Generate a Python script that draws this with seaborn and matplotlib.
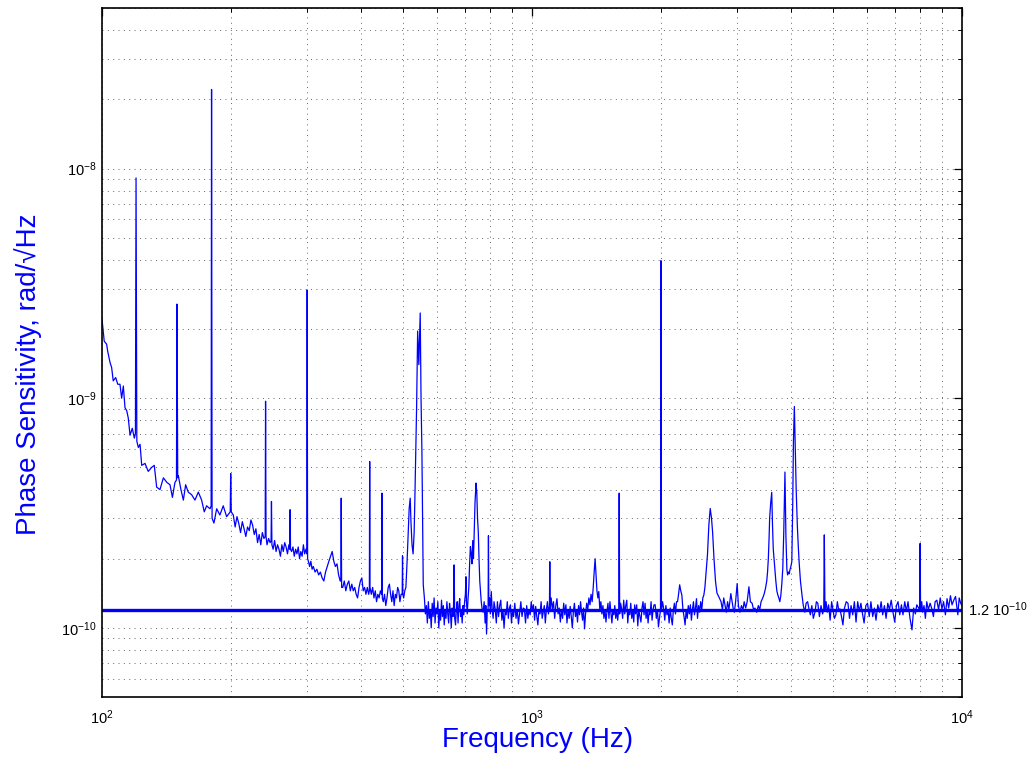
import numpy as np
import pandas as pd
import seaborn as sns
import matplotlib
matplotlib.use("Agg")
import matplotlib.pyplot as plt
from matplotlib.ticker import LogLocator, LogFormatterMathtext, NullFormatter

# spectrum, in three bands
# frequency in Hz, amplitude in units of 1e-10 rad/sqrt(Hz)
low_hz = [
    100.0, 101.2, 102.5, 103.1, 104.4, 105.3, 106.2, 107.6, 108.8, 110.1,
    111.1, 112.1, 113.1, 114.2, 115.1, 116.2, 117.6, 118.9, 119.6, 120.0,
    120.5, 121.5, 122.6, 123.7, 125.9, 128.1, 130.5, 132.3, 134.0, 136.4,
    138.9, 141.5, 143.9, 145.8, 147.8, 149.0, 149.4, 150.0, 150.5, 152.6,
    154.6, 156.5, 158.7, 161.6, 164.5, 167.5, 170.5, 172.9, 175.1, 178.3,
    179.4, 179.8, 180.3, 182.1, 184.8, 188.0, 191.4, 194.9, 198.7, 199.2,
    199.8,
]
low_amp = [
    22.1, 17.7, 17.2, 16.0, 14.3, 13.6, 11.9, 12.3, 11.5, 11.5,
    10.0, 11.3, 9.1, 8.8, 8.2, 6.9, 7.4, 6.7, 7.0, 91.0,
    6.5, 6.1, 6.3, 5.1, 5.2, 4.8, 5.0, 5.1, 4.1, 4.0,
    4.5, 4.3, 4.2, 3.7, 4.3, 4.4, 25.7, 4.5, 4.6, 4.0,
    3.6, 4.2, 3.9, 3.8, 3.6, 3.9, 3.6, 3.2, 3.4, 3.3,
    3.4, 221.0, 3.0, 2.86, 3.3, 3.1, 3.4, 3.05, 3.2, 4.7,
    3.2,
]

mid_hz = [
    202, 204, 206, 208, 210, 212, 214, 216, 218, 220,
    222, 224, 226, 228, 230, 232, 234, 236, 238, 239.6,
    240.1, 240.7, 242, 244, 246, 247.3, 247.8, 248.4, 250, 252,
    254, 256, 258, 260, 262, 264, 266, 268, 270, 272,
    273.3, 273.8, 274.4, 276, 278, 280, 282, 284, 286, 288,
    290, 292, 294, 296, 298, 299.4, 300.0, 300.7, 302, 304,
    306, 308, 310, 313, 316, 319, 322, 325, 328, 331,
    334, 337, 340, 343, 346, 349, 352, 355, 358, 359.3,
    360.0, 360.8, 363, 366, 369, 372, 375, 378, 381, 384,
    387, 390, 393, 396, 399, 402, 405, 408, 411, 414,
    417, 418.6, 419.3, 420.0, 423, 426, 429, 432, 435, 438,
    441, 444, 447.0, 447.8, 448.6, 451, 454, 457, 460, 463,
    466, 469, 472, 475, 478, 481, 484, 487, 490, 493,
    496, 499.0, 499.9, 500.8, 503, 506, 509, 512, 515, 518,
    520.9, 523, 526, 529, 532, 534, 536.6, 539, 542.1, 545.5,
    549.6, 552, 554.6, 558.6,
]
mid_amp = [
    3.1, 2.75, 3.05, 2.85, 2.6, 2.9, 2.7, 2.5, 2.75, 2.65,
    2.95, 2.8, 2.55, 2.7, 2.35, 2.55, 2.3, 2.6, 2.45, 2.5,
    9.7, 2.5, 2.3, 2.45, 2.35, 2.4, 3.55, 2.3, 2.2, 2.4,
    2.15, 2.3, 2.2, 2.05, 2.3, 2.15, 2.35, 2.25, 2.1, 2.3,
    2.2, 3.27, 2.2, 2.15, 2.25, 2.05, 2.2, 2.1, 2.25, 2.0,
    2.15, 2.05, 2.3, 2.1, 2.2, 2.1, 29.6, 2.0, 1.95, 1.85,
    1.95, 1.8, 1.85, 1.75, 1.8, 1.7, 1.75, 1.65, 1.6, 1.75,
    1.85, 1.95, 2.05, 2.15, 1.95, 1.85, 1.9, 1.7, 1.6, 1.6,
    3.67, 1.5, 1.5, 1.6, 1.45, 1.55, 1.6, 1.45, 1.55, 1.45,
    1.5, 1.4, 1.35, 1.5, 1.6, 1.65, 1.45, 1.5, 1.4, 1.5,
    1.4, 1.45, 5.3, 1.5, 1.4, 1.5, 1.35, 1.45, 1.3, 1.4,
    1.35, 1.45, 1.4, 3.86, 1.35, 1.3, 1.4, 1.25, 1.35, 1.5,
    1.55, 1.4, 1.3, 1.45, 1.25, 1.4, 1.35, 1.5, 1.45, 1.3,
    1.4, 1.4, 2.06, 1.4, 1.35, 1.45, 1.5, 1.9, 2.5, 3.3,
    3.67, 2.9, 2.3, 2.1, 2.6, 3.6, 5.87, 9.0, 19.6, 14.0,
    23.5, 10.0, 5.87, 1.54,
]

high_hz = [
    562, 565, 568, 571, 574, 577, 580, 583, 586, 589,
    592, 595, 598, 601, 604, 607, 610, 613, 616, 619,
    622, 625, 628, 631, 634, 637, 640, 643, 646, 649,
    652, 655, 656.5, 659, 661, 664, 667, 670, 673, 676,
    679, 682, 685, 688, 691, 694, 697, 700, 702, 704,
    707, 710, 713, 716, 719, 722, 725, 728, 731, 734,
    737, 741, 744, 747, 750, 753, 756, 759, 762, 766,
    770, 774, 778, 781, 784, 787, 790.5, 792, 793.5, 797,
    800, 804, 808, 812, 816, 821, 826, 831, 836, 841,
    846, 851, 856, 861, 866, 871, 876, 881, 886, 891,
    896, 901, 906, 912, 918, 924, 930, 936, 942, 948,
    954, 960, 966, 972, 978, 984, 990, 996, 1002, 1008,
    1014, 1020, 1026, 1032, 1038, 1044, 1050, 1056, 1062, 1068,
    1074, 1080, 1086, 1092, 1098, 1100, 1102, 1108, 1115, 1122,
    1129, 1136, 1143, 1150, 1157, 1164, 1171, 1178, 1185, 1192,
    1199, 1206, 1213, 1220, 1227, 1234, 1241, 1248, 1255, 1262,
    1269, 1276, 1283, 1290, 1297, 1304, 1311, 1318, 1325, 1332,
    1340, 1348, 1356, 1364, 1372, 1380, 1388, 1395, 1402, 1409,
    1416, 1423, 1430, 1438, 1446, 1454, 1462, 1470, 1478, 1486,
    1494, 1502, 1510, 1518, 1526, 1534, 1542, 1550, 1558, 1566,
    1574, 1582, 1591, 1595, 1599, 1607, 1616, 1625, 1634, 1643,
    1652, 1661, 1670, 1679, 1688, 1697, 1706, 1715, 1724, 1733,
    1742, 1752, 1762, 1772, 1782, 1792, 1802, 1812, 1822, 1832,
    1842, 1852, 1862, 1872, 1882, 1892, 1902, 1912, 1922, 1934,
    1946, 1958, 1968, 1990, 1995, 2000, 2012, 2024, 2036, 2048,
    2060, 2072, 2084, 2096, 2108, 2120, 2132, 2144, 2156, 2168,
    2180, 2192, 2205, 2218, 2231, 2244, 2257, 2270, 2283, 2296,
    2309, 2322, 2335, 2348, 2361, 2374, 2387, 2400, 2413, 2426,
    2440, 2454, 2468, 2482, 2496, 2510, 2524, 2540, 2559, 2578,
    2597, 2615, 2630, 2650, 2672, 2692, 2712, 2732, 2752, 2772,
    2792, 2812, 2830, 2850, 2870, 2900, 2920, 2940, 2955, 2975,
    3000, 3020, 3045, 3070, 3095, 3115, 3140, 3165, 3195, 3220,
    3250, 3275, 3300, 3330, 3360, 3385, 3410, 3440, 3465, 3490,
    3515, 3530, 3545, 3560, 3570, 3590, 3610, 3625, 3640, 3660,
    3690, 3710, 3730, 3750, 3770, 3790, 3810, 3830, 3850, 3875,
    3895, 3915, 3930, 3950, 3965, 3980, 4000, 4020, 4040, 4055,
    4075, 4095, 4115, 4140, 4160, 4180, 4210, 4245, 4275, 4310,
    4340, 4375, 4410, 4440, 4475, 4510, 4550, 4585, 4620, 4660,
    4700, 4740, 4770, 4784, 4800, 4830, 4860, 4895, 4935, 4975,
    5010, 5050, 5090, 5130, 5165, 5200, 5245, 5285, 5330, 5380,
    5430, 5475, 5520, 5570, 5620, 5670, 5720, 5770, 5820, 5870,
    5920, 5975, 6030, 6085, 6140, 6200, 6255, 6310, 6370, 6430,
    6485, 6540, 6600, 6660, 6720, 6780, 6845, 6910, 6975, 7040,
    7100, 7165, 7230, 7290, 7360, 7425, 7490, 7570, 7650, 7720,
    7790, 7850, 7970, 7990, 8010, 8060, 8100, 8160, 8220, 8280,
    8350, 8430, 8510, 8580, 8660, 8740, 8820, 8900, 8980, 9060,
    9150, 9230, 9310, 9400, 9480, 9570, 9660, 9720, 9780, 9850,
    9930, 10000,
]
high_amp = [
    1.35, 1.15, 1.25, 1.05, 1.3, 1.1, 1.2, 1.0, 1.28, 1.12,
    1.35, 1.05, 1.22, 1.15, 1.3, 1.0, 1.18, 1.08, 1.32, 1.12,
    1.25, 1.03, 1.2, 1.1, 1.3, 1.15, 1.05, 1.28, 1.18, 1.0,
    1.22, 1.12, 1.15, 1.88, 1.1, 1.03, 1.2, 1.3, 1.05, 1.25,
    1.34, 1.12, 1.2, 1.05, 1.25, 1.14, 1.3, 1.4, 1.67, 1.3,
    1.15, 1.34, 1.5, 1.9, 2.26, 2.1, 1.9, 2.4, 2.0, 2.6,
    3.5, 4.27, 3.9, 3.0, 2.62, 2.0, 1.6, 1.44, 1.3, 1.2,
    1.17, 1.3, 1.05, 1.25, 0.94, 1.2, 1.2, 2.52, 1.25, 1.35,
    1.15, 1.44, 1.2, 1.1, 1.3, 1.21, 1.05, 1.3, 1.12, 1.25,
    1.32, 1.08, 1.2, 1.0, 1.18, 1.14, 1.3, 1.1, 1.22, 1.26,
    1.05, 1.2, 1.12, 1.28, 1.1, 1.2, 1.04, 1.16, 1.3, 1.12,
    1.22, 1.21, 1.05, 1.25, 1.1, 1.2, 1.14, 1.3, 1.18, 1.26,
    1.08, 1.24, 1.12, 1.03, 1.2, 1.15, 1.3, 1.1, 1.17, 1.25,
    1.05, 1.2, 1.3, 1.15, 1.25, 1.94, 1.2, 1.35, 1.21, 1.3,
    1.1, 1.25, 1.34, 1.15, 1.22, 1.06, 1.2, 1.1, 1.28, 1.14,
    1.26, 1.05, 1.2, 1.1, 1.24, 1.12, 1.0, 1.18, 1.28, 1.12,
    1.2, 1.06, 1.25, 1.14, 1.3, 1.17, 1.08, 1.22, 0.99, 1.15,
    1.28, 1.2, 1.35, 1.26, 1.4, 1.3, 1.5, 1.75, 2.0, 1.7,
    1.45, 1.35, 1.44, 1.2, 1.3, 1.15, 1.25, 1.1, 1.2, 1.06,
    1.18, 1.28, 1.1, 1.3, 1.16, 1.05, 1.2, 1.14, 1.25, 1.1,
    1.2, 1.08, 1.2, 3.86, 1.15, 1.28, 1.21, 1.1, 1.32, 1.15,
    1.25, 1.32, 1.05, 1.2, 1.14, 1.28, 1.1, 1.2, 1.06, 1.26,
    1.15, 1.26, 1.02, 1.2, 1.12, 1.06, 1.22, 1.3, 1.14, 1.28,
    1.1, 1.2, 1.05, 1.18, 1.14, 1.3, 1.08, 1.2, 1.26, 1.26,
    1.1, 1.2, 1.01, 1.2, 39.7, 1.2, 1.3, 1.21, 1.08, 1.25,
    1.14, 1.2, 1.05, 1.22, 1.1, 1.03, 1.2, 1.28, 1.15, 1.3,
    1.3, 1.4, 1.54, 1.45, 1.39, 1.2, 1.12, 1.03, 1.2, 1.1,
    1.25, 1.15, 1.26, 1.08, 1.2, 1.3, 1.14, 1.22, 1.34, 1.1,
    1.25, 1.17, 1.3, 1.2, 1.35, 1.39, 1.5, 1.75, 2.08, 2.8,
    3.31, 3.0, 2.62, 2.0, 1.59, 1.42, 1.38, 1.34, 1.3, 1.2,
    1.35, 1.25, 1.17, 1.3, 1.2, 1.41, 1.3, 1.2, 1.17, 1.3,
    1.56, 1.25, 1.17, 1.25, 1.2, 1.3, 1.22, 1.3, 1.51, 1.3,
    1.28, 1.2, 1.22, 1.17, 1.25, 1.2, 1.3, 1.35, 1.4, 1.48,
    1.6, 1.75, 2.0, 2.5, 3.0, 3.5, 3.89, 2.8, 2.2, 1.94,
    1.6, 1.45, 1.39, 1.35, 1.3, 1.38, 1.55, 1.81, 2.6, 4.77,
    2.5, 1.8, 1.7, 1.75, 1.72, 1.79, 1.85, 1.94, 3.5, 6.5,
    9.2, 6.0, 4.0, 2.81, 2.3, 1.94, 1.6, 1.39, 1.25, 1.17,
    1.28, 1.3, 1.2, 1.14, 1.25, 1.1, 1.17, 1.3, 1.28, 1.12,
    1.25, 1.15, 1.2, 2.54, 1.2, 1.3, 1.17, 1.26, 1.08, 1.3,
    1.2, 1.1, 1.14, 1.3, 1.2, 1.21, 1.12, 1.03, 1.22, 1.3,
    1.28, 1.1, 1.25, 1.14, 1.3, 1.06, 1.3, 1.18, 1.28, 1.15,
    1.05, 1.25, 1.28, 1.12, 1.3, 1.12, 1.22, 1.08, 1.26, 1.17,
    1.3, 1.14, 1.25, 1.1, 1.28, 1.2, 1.32, 1.17, 1.06, 1.25,
    1.3, 1.14, 1.26, 1.14, 1.3, 1.18, 1.3, 1.1, 0.98, 1.22,
    1.15, 1.26, 1.2, 2.33, 1.2, 1.3, 1.17, 1.25, 1.1, 1.3,
    1.2, 1.28, 1.21, 1.12, 1.3, 1.32, 1.2, 1.35, 1.21, 1.3,
    1.14, 1.34, 1.22, 1.38, 1.26, 1.32, 1.37, 1.25, 1.14, 1.35,
    1.28, 1.25,
]

floor_level = 1.2e-10
floor_label = r"1.2 $10^{-10}$"

df = pd.DataFrame({
    "freq": low_hz + mid_hz + high_hz,
    "psd": np.array(low_amp + mid_amp + high_amp) * 1e-10,
})

sns.set_style("white")
plt.rcParams["font.family"] = ["Liberation Sans", "DejaVu Sans"]
plt.rcParams["mathtext.fontset"] = "custom"
plt.rcParams["mathtext.rm"] = "Liberation Sans"
plt.rcParams["mathtext.it"] = "Liberation Sans:italic"

fig = plt.figure(figsize=(10.28, 7.57), dpi=100)
ax = fig.add_axes([102 / 1028, 1 - 697 / 757, 860 / 1028, 689 / 757])

sns.lineplot(data=df, x="freq", y="psd", estimator=None, sort=False,
             color="blue", linewidth=0.9, ax=ax)
ax.axhline(floor_level, color="blue", linewidth=2.4)

ax.set_xscale("log")
ax.set_yscale("log")
ax.set_xlim(100, 10000)
ax.set_ylim(5e-11, 5e-8)

for axis in (ax.xaxis, ax.yaxis):
    axis.set_major_locator(LogLocator(base=10))
    axis.set_major_formatter(LogFormatterMathtext())
    axis.set_minor_locator(LogLocator(base=10, subs=np.arange(2, 10)))
    axis.set_minor_formatter(NullFormatter())

ax.grid(True, which="both", linestyle=(0, (1, 4.5)), color="0.4", linewidth=0.7)
ax.tick_params(which="both", direction="in", top=True, right=True, colors="black",
               labelsize=10.5)
ax.tick_params(which="major", length=6, width=0.9)
ax.tick_params(which="minor", length=3, width=0.7)
ax.tick_params(axis="x", pad=8)
ax.tick_params(axis="y", pad=4)
for s in ax.spines.values():
    s.set_color("black")
    s.set_linewidth(1.2)

ax.set_xlabel("Frequency (Hz)", fontsize=20, color="blue")
ax.set_ylabel("Phase Sensitivity, rad/\u221aHz", fontsize=20, color="blue")
ax.xaxis.label.set_va("center")
ax.xaxis.set_label_coords(0.507, -0.062)
ax.yaxis.label.set_va("center")
ax.yaxis.set_label_coords(-0.086, 0.469)

ax.annotate(floor_label, xy=(1.0, floor_level), xycoords=("axes fraction", "data"),
            xytext=(4, 0), textcoords="offset points", ha="left", va="center",
            fontsize=10.5, color="black")

fig.savefig("out.png", dpi=100)
